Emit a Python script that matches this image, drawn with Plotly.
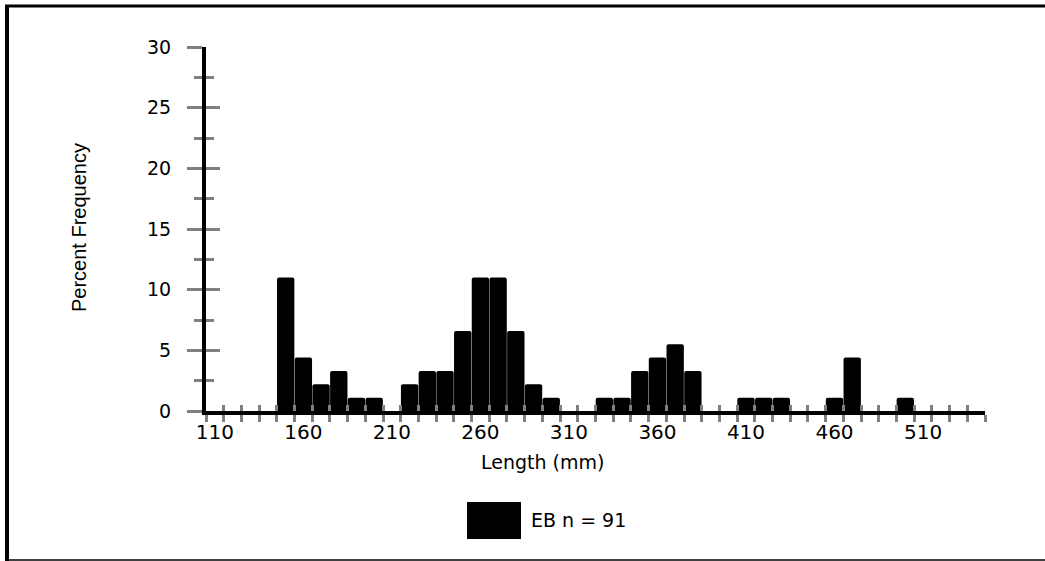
import plotly.graph_objects as go

# ---- data ----
lengths = [110, 120, 130, 140, 150, 160, 170, 180, 190, 200,
           210, 220, 230, 240, 250, 260, 270, 280, 290, 300,
           310, 320, 330, 340, 350, 360, 370, 380, 390, 400,
           410, 420, 430, 440, 450, 460, 470, 480, 490, 500,
           510, 520, 530, 540]
percent = [0, 0, 0, 0, 11.0, 4.4, 2.2, 3.3, 1.1, 1.1,
           0, 2.2, 3.3, 3.3, 6.6, 11.0, 11.0, 6.6, 2.2, 1.1,
           0, 0, 1.1, 1.1, 3.3, 4.4, 5.5, 3.3, 0, 0,
           1.1, 1.1, 1.1, 0, 0, 1.1, 4.4, 0, 0, 1.1,
           0, 0, 0, 0]
x_tick_labels = [110, 160, 210, 260, 310, 360, 410, 460, 510]
bin_edges = [105, 115, 125, 135, 145, 155, 165, 175, 185, 195,
             205, 215, 225, 235, 245, 255, 265, 275, 285, 295,
             305, 315, 325, 335, 345, 355, 365, 375, 385, 395,
             405, 415, 425, 435, 445, 455, 465, 475, 485, 495,
             505, 515, 525, 535, 545]
y_major = [0, 5, 10, 15, 20, 25, 30]
y_minor = [2.5, 7.5, 12.5, 17.5, 22.5, 27.5]
series_name = "EB n = 91"
x_title = "Length (mm)"
y_title = "Percent Frequency"

# ---- layout geometry ----
W, H = 1045, 561
L, R, T, B = 206, 60, 47, 150
PW, PH = W - L - R, H - T - B


def pxx(x):
    return (x - L) / PW


def pxy(y):
    return (H - B - y) / PH


GRAY = "#808080"
ARIAL = "Liberation Sans, Arial, sans-serif"
WIDE = "DejaVu Sans, sans-serif"

fig = go.Figure()
fig.add_trace(go.Bar(
    x=lengths, y=percent, name=series_name,
    marker=dict(color="black", line=dict(width=0), cornerradius=2),
    showlegend=False, xaxis="x", yaxis="y",
))
# empty helper trace so the overlay axes (inside halves of the crossing ticks) exist
fig.add_trace(go.Scatter(x=[None], y=[None], xaxis="x2", yaxis="y2",
                         showlegend=False, hoverinfo="skip"))

fig.update_layout(
    width=W, height=H,
    margin=dict(l=L, r=R, t=T, b=B, autoexpand=False),
    paper_bgcolor="white", plot_bgcolor="white",
    bargap=0.02,
    xaxis=dict(
        range=[105, 545], anchor="y", showgrid=False, zeroline=False,
        showline=True, linecolor="black", linewidth=4,
        tickmode="array", tickvals=x_tick_labels,
        ticktext=[str(v) for v in x_tick_labels], ticks="",
        tickfont=dict(family=WIDE, size=20, color="black"),
        minor=dict(tickmode="array", tickvals=bin_edges, ticks="outside",
                   ticklen=7, tickwidth=3, tickcolor=GRAY, showgrid=False),
    ),
    yaxis=dict(
        range=[0, 30], anchor="x", showgrid=False, zeroline=False,
        showline=True, linecolor="black", linewidth=4,
        tickmode="array", tickvals=y_major, ticks="outside",
        ticklen=15, tickwidth=3, tickcolor=GRAY,
        tickfont=dict(family=WIDE, size=19, color="black"),
        ticklabelstandoff=12,
        minor=dict(tickmode="array", tickvals=y_minor, ticks="outside",
                   ticklen=8, tickwidth=3, tickcolor=GRAY, showgrid=False),
    ),
    xaxis2=dict(
        range=[105, 545], anchor="y2", overlaying="x", showgrid=False,
        zeroline=False, showline=False, showticklabels=False,
        tickmode="array", tickvals=bin_edges, ticks="inside",
        ticklen=6, tickwidth=3, tickcolor=GRAY,
    ),
    yaxis2=dict(
        range=[0, 30], anchor="x2", overlaying="y", showgrid=False,
        zeroline=False, showline=False, showticklabels=False,
        tickmode="array", tickvals=y_major, ticks="inside",
        ticklen=14, tickwidth=3, tickcolor=GRAY,
        minor=dict(tickmode="array", tickvals=y_minor, ticks="inside",
                   ticklen=8, tickwidth=3, tickcolor=GRAY, showgrid=False),
    ),
    annotations=[
        dict(text=x_title, xref="paper", yref="paper", x=pxx(542), y=pxy(462),
             xanchor="center", yanchor="middle", showarrow=False,
             font=dict(family=WIDE, size=19, color="black")),
        dict(text=y_title, xref="paper", yref="paper", x=pxx(79), y=pxy(228),
             xanchor="center", yanchor="middle", showarrow=False, textangle=-90,
             font=dict(family=ARIAL, size=20, color="black")),
        dict(text=series_name, xref="paper", yref="paper", x=pxx(529), y=pxy(520),
             xanchor="left", yanchor="middle", showarrow=False,
             font=dict(family=WIDE, size=19, color="black")),
    ],
    shapes=[
        # legend key
        dict(type="rect", xref="paper", yref="paper",
             x0=pxx(467), x1=pxx(521), y0=pxy(502), y1=pxy(539),
             fillcolor="black", line=dict(width=0)),
        # outer frame (left, top, bottom)
        dict(type="line", xref="paper", yref="paper",
             x0=pxx(7), x1=pxx(7), y0=pxy(5), y1=pxy(561),
             line=dict(color="black", width=4)),
        dict(type="line", xref="paper", yref="paper",
             x0=pxx(5), x1=pxx(1045), y0=pxy(6), y1=pxy(6),
             line=dict(color="black", width=3)),
        dict(type="line", xref="paper", yref="paper",
             x0=pxx(5), x1=pxx(1045), y0=pxy(560), y1=pxy(560),
             line=dict(color="black", width=1.5)),
    ],
)

fig.write_html("out.html",
               config={"displayModeBar": False},
               post_script="document.body.style.margin='0';"
                           "document.body.style.overflow='hidden';")
